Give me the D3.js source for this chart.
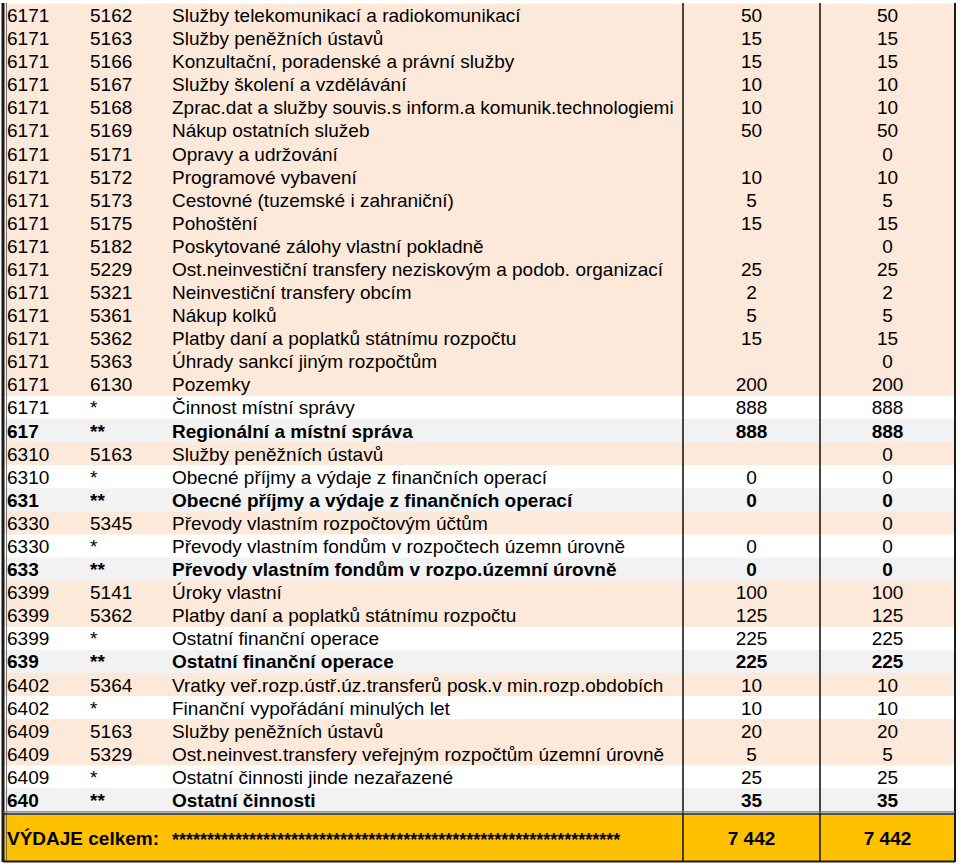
<!DOCTYPE html>
<html><head><meta charset="utf-8">
<script src="https://cdn.jsdelivr.net/npm/d3@7"></script>
<style>body{margin:0;background:#fff}svg{display:block}text{font-family:"Liberation Sans",Arial,sans-serif}</style>
</head><body><svg id="c" width="960" height="866"></svg>
<script>
const oddil = ["6171","6171","6171","6171","6171","6171","6171","6171","6171","6171","6171","6171","6171","6171","6171","6171","6171","6171","617","6310","6310","631","6330","6330","633","6399","6399","6399","639","6402","6402","6409","6409","6409","640"];
const polozka = ["5162","5163","5166","5167","5168","5169","5171","5172","5173","5175","5182","5229","5321","5361","5362","5363","6130","*","**","5163","*","**","5345","*","**","5141","5362","*","**","5364","*","5163","5329","*","**"];
const nazev = ["Služby telekomunikací a radiokomunikací","Služby peněžních ústavů","Konzultační, poradenské a právní služby","Služby školení a vzdělávání","Zprac.dat a služby souvis.s inform.a komunik.technologiemi","Nákup ostatních služeb","Opravy a udržování","Programové vybavení","Cestovné (tuzemské i zahraniční)","Pohoštění","Poskytované zálohy vlastní pokladně","Ost.neinvestiční transfery neziskovým a podob. organizací","Neinvestiční transfery obcím","Nákup kolků","Platby daní a poplatků státnímu rozpočtu","Úhrady sankcí jiným rozpočtům","Pozemky","Činnost místní správy","Regionální a místní správa","Služby peněžních ústavů","Obecné příjmy a výdaje z finančních operací","Obecné příjmy a výdaje z finančních operací","Převody vlastním rozpočtovým účtům","Převody vlastním fondům v rozpočtech územn úrovně","Převody vlastním fondům v rozpo.územní úrovně","Úroky vlastní","Platby daní a poplatků státnímu rozpočtu","Ostatní finanční operace","Ostatní finanční operace","Vratky veř.rozp.ústř.úz.transferů posk.v min.rozp.obdobích","Finanční vypořádání minulých let","Služby peněžních ústavů","Ost.neinvest.transfery veřejným rozpočtům územní úrovně","Ostatní činnosti jinde nezařazené","Ostatní činnosti"];
const hodnota1 = ["50","15","15","10","10","50","","10","5","15","","25","2","5","15","","200","888","888","","0","0","","0","0","100","125","225","225","10","10","20","5","25","35"];
const hodnota2 = ["50","15","15","10","10","50","0","10","5","15","0","25","2","5","15","0","200","888","888","0","0","0","0","0","0","100","125","225","225","10","10","20","5","25","35"];
const celkemLabel = "VÝDAJE celkem:";
const celkem1 = "7 442", celkem2 = "7 442";

const svg = d3.select("#c");
const y = d3.scaleBand().domain(d3.range(oddil.length)).range([3.5, 811.5]);
const xCols = {a:7, b:90, c:172, sep1:683, sep2:820, right:955, left:3};
const v1c = (xCols.sep1 + xCols.sep2)/2, v2c = (xCols.sep2 + xCols.right)/2;
const type = i => polozka[i] === "**" ? 2 : (polozka[i] === "*" ? 1 : 0);
const fill = t => t === 2 ? "#f2f2f2" : (t === 1 ? "#ffffff" : "#fde9d9");

const rows = svg.append("g").selectAll("g").data(d3.range(oddil.length)).join("g")
  .attr("transform", i => `translate(0,${y(i)})`);
rows.append("rect").attr("x", xCols.left).attr("width", xCols.right - xCols.left)
  .attr("height", y.bandwidth() + 0.5).attr("fill", i => fill(type(i)));
const fs = 19;
const ty = y.bandwidth()/2 + 7;
const fw = i => type(i) === 2 ? "bold" : "normal";
rows.append("text").attr("x", xCols.a).attr("y", ty).attr("font-size", fs).attr("font-weight", fw).text(i => oddil[i]);
rows.append("text").attr("x", xCols.b).attr("y", ty).attr("font-size", fs).attr("font-weight", fw).text(i => polozka[i]);
rows.append("text").attr("x", xCols.c).attr("y", ty).attr("font-size", fs).attr("font-weight", fw).text(i => nazev[i]);
rows.append("text").attr("x", v1c).attr("y", ty).attr("font-size", fs).attr("text-anchor","middle").attr("font-weight", fw).text(i => hodnota1[i]);
rows.append("text").attr("x", v2c).attr("y", ty).attr("font-size", fs).attr("text-anchor","middle").attr("font-weight", fw).text(i => hodnota2[i]);

// total row
const tTop = 815, tBot = 861;
svg.append("rect").attr("x", xCols.left).attr("y", tTop).attr("width", xCols.right - xCols.left).attr("height", tBot - tTop).attr("fill", "#ffc000");
const tc = (tTop + tBot)/2 + 7;
svg.append("text").attr("x", xCols.a).attr("y", tc).attr("font-size", 19).attr("font-weight","bold").text(celkemLabel);
svg.append("text").attr("x", xCols.c).attr("y", tc + 1).attr("font-size", 18).attr("font-weight","bold").text("*".repeat(64));
svg.append("text").attr("x", v1c).attr("y", tc).attr("font-size", 19).attr("font-weight","bold").attr("text-anchor","middle").text(celkem1);
svg.append("text").attr("x", v2c).attr("y", tc).attr("font-size", 19).attr("font-weight","bold").attr("text-anchor","middle").text(celkem2);

// lines
const ln = (x1,y1,x2,y2,w,c) => svg.append("line").attr("x1",x1).attr("y1",y1).attr("x2",x2).attr("y2",y2).attr("stroke",c||"#1a1a1a").attr("stroke-width",w);
ln(xCols.sep1, 3, xCols.sep1, tBot, 1.6);
ln(xCols.sep2, 3, xCols.sep2, tBot, 1.6);
ln(xCols.right, 3, xCols.right, tBot+1, 2);
ln(xCols.left, 3, xCols.left, tBot+1, 3);
ln(xCols.left+3.5, 3, xCols.left+3.5, tBot, 0.8, "#555");
ln(xCols.left, 811.8, xCols.right, 811.8, 1.2, "#777");
ln(xCols.left, 814, xCols.right, 814, 1.6);
ln(xCols.left, tBot+0.5, xCols.right, tBot+0.5, 2);
</script></body></html>
